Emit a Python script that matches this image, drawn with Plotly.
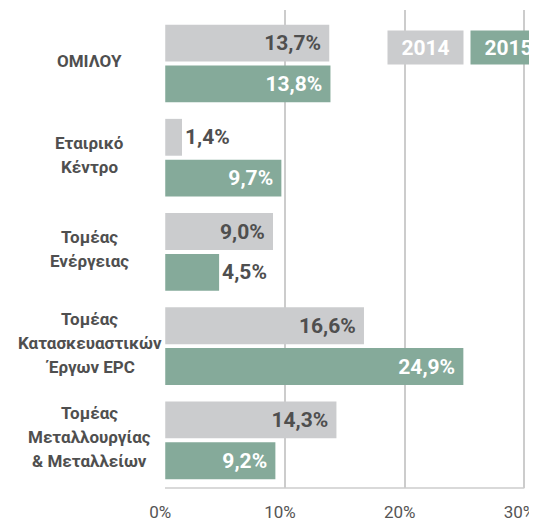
import plotly.graph_objects as go

categories = ["ΟΜΙΛΟΥ", "Εταιρικό<br>Κέντρο", "Τομέας<br>Ενέργειας",
              "Τομέας<br>Κατασκευαστικών<br>Έργων EPC",
              "Τομέας<br>Μεταλλουργίας<br>& Μεταλλείων"]
values_2014 = [13.7, 1.4, 9.0, 16.6, 14.3]
values_2015 = [13.8, 9.7, 4.5, 24.9, 9.2]
series_names = ["2014", "2015"]
x_ticks = [0, 10, 20, 30]
x_tick_labels = ["0%", "10%", "20%", "30%"]

GRAY = "#CBCCCE"
GREEN = "#85AA9A"
DARK = "#4F4F4F"
FONT = "Roboto, sans-serif"
idx = list(range(len(categories)))

def positions(vals, thr=5):
    return ["outside" if v < thr else "inside" for v in vals]

fig = go.Figure()
fig.add_trace(go.Bar(
    y=idx, x=values_2014, orientation="h", name=series_names[0],
    marker=dict(color=GRAY, line=dict(width=0)),
    texttemplate="%{x:.1f}%\u00a0", textposition=positions(values_2014),
    insidetextanchor="end", constraintext="none",
    textfont=dict(family=FONT, size=21, color=DARK, weight="bold"),
    cliponaxis=False,
))
fig.add_trace(go.Bar(
    y=idx, x=values_2015, orientation="h", name=series_names[1],
    marker=dict(color=GREEN, line=dict(width=0)),
    texttemplate="%{x:.1f}%\u00a0", textposition=positions(values_2015),
    insidetextanchor="end", constraintext="none",
    insidetextfont=dict(family=FONT, size=21, color="white", weight="bold"),
    outsidetextfont=dict(family=FONT, size=21, color=DARK, weight="bold"),
    cliponaxis=False,
))

annotations = []
LINE = 24
for i, cat in enumerate(categories):
    lines = cat.split("<br>")
    n = len(lines)
    for j, ln in enumerate(lines):
        annotations.append(dict(
            x=-0.207, xref="paper", y=i, yref="y", xanchor="center", yanchor="middle",
            text=ln, showarrow=False, yshift=((n - 1) / 2 - j) * LINE + 3,
            font=dict(family=FONT, size=17, color=DARK, weight="bold"),
        ))

# legend boxes
for name, col, cx in [(series_names[0], GRAY, 0.719), (series_names[1], GREEN, 0.945)]:
    annotations.append(dict(
        x=cx, xref="paper", y=0.922, yref="paper", xanchor="center", yanchor="middle",
        text=name, showarrow=False, bgcolor=col, width=75, height=33, borderpad=0,
        font=dict(family=FONT, size=21, color="white", weight="bold"),
    ))

# page body has an 8px margin, so the figure is sized/offset to compensate
fig.update_layout(
    width=529, height=516,
    margin=dict(l=157, r=9, t=2, b=34),
    paper_bgcolor="white", plot_bgcolor="white",
    barmode="group", bargap=0.133, bargroupgap=0.0976,
    separators=",.",
    showlegend=False,
    annotations=annotations,
    xaxis=dict(range=[-0.02, 30.3], tickvals=x_ticks, ticktext=x_tick_labels,
               showgrid=True, gridcolor="#CCCCCC", gridwidth=1.5, zeroline=False,
               showline=False, ticks="", ticklen=0,
               ticklabelstandoff=12, ticklabelshift=-5,
               tickfont=dict(family=FONT, size=17, color="#555555")),
    yaxis=dict(range=[4.506, -0.568], showticklabels=False, showgrid=False,
               zeroline=False, showline=False, ticks=""),
    shapes=[dict(type="line", xref="paper", yref="paper", x0=0, x1=0.99, y0=0, y1=0,
                 line=dict(color="#CCCCCC", width=1.5))],
)

fig.write_html("out.html", config={"displayModeBar": False})
